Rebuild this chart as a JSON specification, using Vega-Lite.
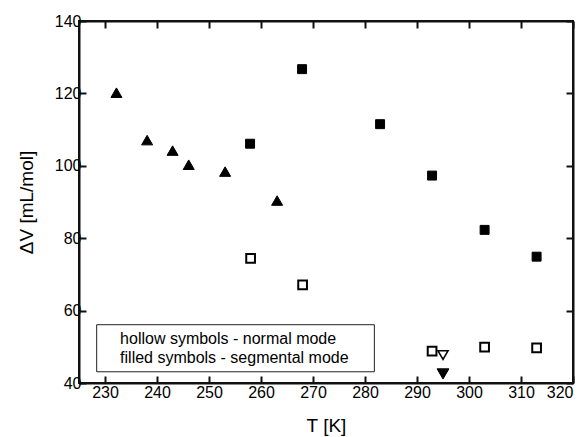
{
  "$schema": "https://vega.github.io/schema/vega-lite/v6.json",
  "width": 494,
  "height": 362,
  "autosize": "none",
  "padding": {"left": 79, "top": 21, "right": 13, "bottom": 54},
  "background": "white",
  "config": {
    "view": {"stroke": "#111111", "strokeWidth": 2},
    "font": "Liberation Sans",
    "axis": {"grid": false, "domainColor": "#111111", "domainWidth": 2, "tickColor": "#111111", "tickWidth": 2,
      "labelFontSize": 16, "labelColor": "black", "titleFontSize": 19, "titleFontWeight": "normal", "titleColor": "black"},
    "axisBottom": {"labelPadding": 8, "titlePadding": 16},
    "axisLeft": {"labelPadding": 5, "titlePadding": 18}
  },
  "datasets": {
    "points": [
      {"T": 232.2, "dV": 120.2, "s": "segmental-triangle"},
      {"T": 238.1, "dV": 107.1, "s": "segmental-triangle"},
      {"T": 243.0, "dV": 104.2, "s": "segmental-triangle"},
      {"T": 246.1, "dV": 100.3, "s": "segmental-triangle"},
      {"T": 253.1, "dV": 98.4, "s": "segmental-triangle"},
      {"T": 263.1, "dV": 90.4, "s": "segmental-triangle"},
      {"T": 257.9, "dV": 106.1, "s": "segmental-square"},
      {"T": 267.9, "dV": 126.7, "s": "segmental-square"},
      {"T": 282.9, "dV": 111.5, "s": "segmental-square"},
      {"T": 292.9, "dV": 97.3, "s": "segmental-square"},
      {"T": 303.0, "dV": 82.3, "s": "segmental-square"},
      {"T": 313.0, "dV": 74.9, "s": "segmental-square"},
      {"T": 258.0, "dV": 74.4, "s": "normal-square"},
      {"T": 268.0, "dV": 67.1, "s": "normal-square"},
      {"T": 292.9, "dV": 48.8, "s": "normal-square"},
      {"T": 303.0, "dV": 49.9, "s": "normal-square"},
      {"T": 313.0, "dV": 49.7, "s": "normal-square"},
      {"T": 295.0, "dV": 47.7, "s": "normal-down"},
      {"T": 295.0, "dV": 42.5, "s": "segmental-down"}
    ],
    "box": [{"x1": 228.4, "x2": 281.8, "y1": 56.1, "y2": 43.1}],
    "notes": [
      {"x": 232.9, "y": 50.8, "label": "hollow symbols - normal mode"},
      {"x": 232.9, "y": 45.5, "label": "filled symbols - segmental mode"}
    ]
  },
  "resolve": {"axis": {"x": "independent", "y": "independent"}},
  "layer": [
    {
      "data": {"name": "box"},
      "mark": {"type": "rect", "fill": "white", "stroke": "#222", "strokeWidth": 1},
      "encoding": {
        "x": {"field": "x1", "type": "quantitative", "scale": {"domain": [225, 320], "nice": false, "zero": false},
          "axis": {"orient": "top", "values": [230,240,250,260,270,280,290,300,310,320], "labels": false, "title": null, "tickSize": -7}},
        "x2": {"field": "x2"},
        "y": {"field": "y1", "type": "quantitative", "scale": {"domain": [40, 140], "nice": false, "zero": false},
          "axis": {"orient": "right", "values": [40,60,80,100,120,140], "labels": false, "title": null, "tickSize": -7}},
        "y2": {"field": "y2"}
      }
    },
    {
      "data": {"name": "notes"},
      "mark": {"type": "text", "align": "left", "baseline": "alphabetic", "fontSize": 16, "font": "Liberation Sans", "color": "black"},
      "encoding": {
        "x": {"field": "x", "type": "quantitative", "axis": null},
        "y": {"field": "y", "type": "quantitative", "axis": null},
        "text": {"field": "label"}
      }
    },
    {
      "data": {"name": "points"},
      "mark": {"type": "point", "stroke": "black", "opacity": 1, "filled": false},
      "encoding": {
        "x": {"field": "T", "type": "quantitative",
          "axis": {"orient": "bottom", "values": [230,240,250,260,270,280,290,300,310,320], "title": "T  [K]", "tickSize": -7}},
        "y": {"field": "dV", "type": "quantitative",
          "axis": {"orient": "left", "values": [40,60,80,100,120,140], "title": "ΔV  [mL/mol]", "tickSize": -7}},
        "shape": {"field": "s", "type": "nominal", "legend": null,
          "scale": {"domain": ["segmental-triangle", "segmental-square", "normal-square", "normal-down", "segmental-down"],
            "range": ["triangle-up", "square", "square", "triangle-down", "triangle-down"]}},
        "fill": {"field": "s", "type": "nominal", "legend": null,
          "scale": {"domain": ["segmental-triangle", "segmental-square", "normal-square", "normal-down", "segmental-down"],
            "range": ["black", "black", "white", "white", "black"]}},
        "size": {"field": "s", "type": "nominal", "legend": null,
          "scale": {"type": "ordinal", "domain": ["segmental-triangle", "segmental-square", "normal-square", "normal-down", "segmental-down"],
            "range": [121, 80, 76, 100, 140]}},
        "strokeWidth": {"field": "s", "type": "nominal", "legend": null,
          "scale": {"type": "ordinal", "domain": ["segmental-triangle", "segmental-square", "normal-square", "normal-down", "segmental-down"],
            "range": [1, 1, 2, 1.6, 1]}}
      }
    }
  ]
}
